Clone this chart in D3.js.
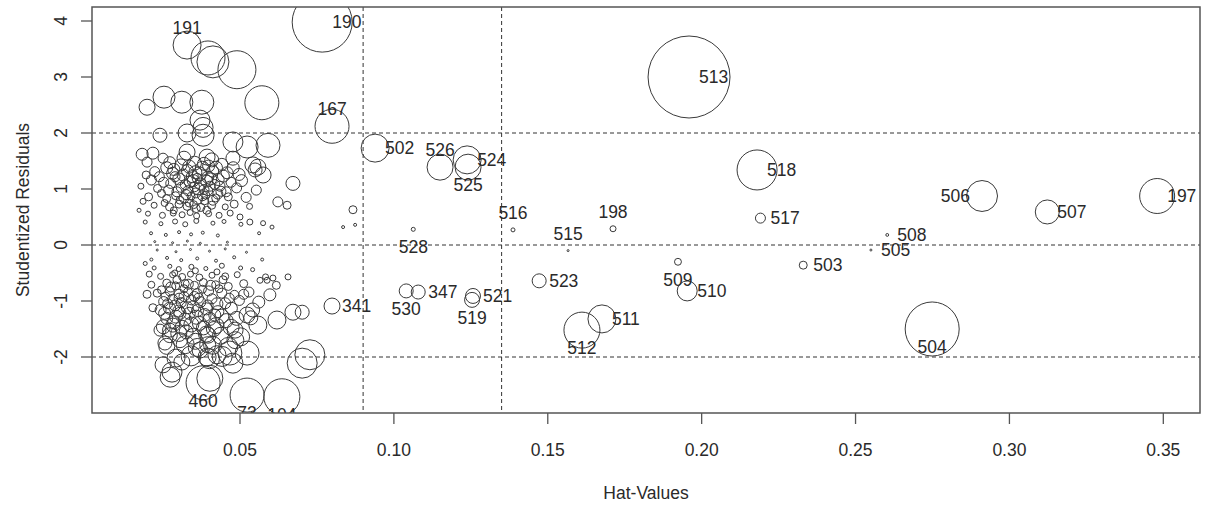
<!DOCTYPE html>
<html>
<head>
<meta charset="utf-8">
<script src="https://cdn.jsdelivr.net/npm/d3@7"></script>
<style>
  body { margin: 0; background: #fff; }
  svg text { font-family: "Liberation Sans", Arial, sans-serif; fill: #2a2a2a; }
</style>
</head>
<body>
<div id="chart"></div>
<script>
// labelled observations
var labelIds   = ["190", "513", "167", "502", "526", "524", "525", "516", "515", "198", "528", "530", "347", "521", "519", "341", "523", "512", "511", "509", "510", "518", "517", "506", "507", "197", "508", "505", "503", "504", "191", "460", "73", "104"];
var labelHat   = [0.0767, 0.1959, 0.0799, 0.0939, 0.1150, 0.1238, 0.1241, 0.1387, 0.1566, 0.1712, 0.1063, 0.1040, 0.1079, 0.1257, 0.1254, 0.0799, 0.1472, 0.1611, 0.1676, 0.1923, 0.1953, 0.2180, 0.2191, 0.2911, 0.3123, 0.3480, 0.2603, 0.2550, 0.2330, 0.2749, 0.0328, 0.0380, 0.0523, 0.0636];
var labelResid = [3.98, 3.00, 2.12, 1.73, 1.39, 1.52, 1.39, 0.27, -0.10, 0.29, 0.28, -0.82, -0.84, -0.91, -0.98, -1.09, -0.64, -1.52, -1.32, -0.30, -0.82, 1.34, 0.48, 0.875, 0.59, 0.875, 0.18, -0.09, -0.36, -1.50, 3.57, -2.46, -2.68, -2.71];
var labelCook  = [0.09, 0.168, 0.0289, 0.0196, 0.0169, 0.0196, 0.0169, 0.0004, 0.0001, 0.0009, 0.0004, 0.0049, 0.0049, 0.0056, 0.0056, 0.0064, 0.0049, 0.0324, 0.0196, 0.0012, 0.01, 0.04, 0.0025, 0.024, 0.0144, 0.0306, 0.0002, 0.0001, 0.0016, 0.073, 0.0196, 0.0289, 0.0289, 0.0324];
var labelSide  = ["right", "right", "above", "right", "above", "right", "below", "above", "above", "above", "below", "below", "right", "right", "below", "right", "right", "below", "right", "below", "right", "right", "right", "left", "right", "right", "right", "right", "right", "below", "above", "below", "below", "below"];

// unlabelled observations: [hat value, studentized residual, cook's D]
var upperBig = [
  [0.0396,3.34,0.0289],[0.0412,3.27,0.0256],[0.0490,3.13,0.0361],[0.0571,2.54,0.0289],
  [0.0198,2.46,0.0064],[0.0253,2.64,0.0121],[0.0311,2.55,0.0121],[0.0376,2.55,0.0144],[0.0370,2.23,0.0100],
  [0.0380,2.10,0.0100],[0.0240,1.96,0.0049],[0.0328,2.00,0.0081],[0.0380,1.96,0.0121],[0.0477,1.84,0.0100],
  [0.0523,1.75,0.0121],[0.0591,1.78,0.0144],[0.0672,1.10,0.0049],[0.0558,1.39,0.0064],[0.0575,1.25,0.0064],
  [0.0549,1.34,0.0049],[0.0623,0.77,0.0025],[0.0653,0.71,0.0016],[0.0867,0.63,0.0016],[0.0835,0.32,0.000225],
  [0.0874,0.36,0.000225],[0.0604,0.32,0.0004],[0.0575,0.39,0.000625],[0.0532,0.41,0.0009],[0.0500,0.50,0.0009],
  [0.0217,1.64,0.0036],[0.0250,1.55,0.0025],[0.0198,1.48,0.0025],[0.0328,1.66,0.0064],[0.0393,1.57,0.0064],
  [0.0477,1.55,0.0049],[0.0542,1.43,0.0064]
];
var upperCluster = [
  [0.0272,1.47,0.0036],[0.0308,1.43,0.0036],[0.0352,1.46,0.0049],[0.0398,1.41,0.0036],[0.0441,1.44,0.0036],
  [0.0223,1.31,0.0025],[0.0281,1.28,0.0036],[0.0329,1.33,0.0036],[0.0368,1.27,0.0049],[0.0411,1.32,0.0036],[0.0458,1.29,0.0036],[0.0497,1.26,0.0036],
  [0.0212,1.16,0.0025],[0.0252,1.12,0.0025],[0.0301,1.18,0.0036],[0.0338,1.13,0.0036],[0.0361,1.19,0.0025],[0.0392,1.14,0.0036],[0.0429,1.17,0.0036],[0.0471,1.12,0.0025],
  [0.0232,1.01,0.0016],[0.0268,0.98,0.0025],[0.0309,1.03,0.0025],[0.0331,0.97,0.0025],[0.0352,1.04,0.0025],[0.0383,0.99,0.0025],[0.0402,1.05,0.0025],[0.0438,0.96,0.0025],[0.0489,1.02,0.0025],[0.0553,0.98,0.0025],
  [0.0203,0.86,0.0016],[0.0262,0.83,0.0016],[0.0291,0.88,0.0016],[0.0318,0.84,0.0025],[0.0341,0.87,0.0016],[0.0362,0.82,0.0025],[0.0389,0.89,0.0016],[0.0421,0.84,0.0016],[0.0462,0.86,0.0016],
  [0.0221,0.71,0.0009],[0.0271,0.68,0.0016],[0.0302,0.73,0.0016],[0.0328,0.69,0.0016],[0.0349,0.72,0.0016],[0.0373,0.67,0.0016],[0.0408,0.71,0.0016],[0.0452,0.68,0.0009],[0.0481,0.73,0.0016],[0.0531,0.69,0.0009],
  [0.0201,0.56,0.000625],[0.0248,0.53,0.0009],[0.0283,0.57,0.0009],[0.0312,0.54,0.0009],[0.0338,0.58,0.0009],[0.0359,0.52,0.0009],[0.0398,0.56,0.0009],[0.0432,0.53,0.0009],[0.0468,0.57,0.0009],
  [0.0192,0.41,0.0004],[0.0243,0.38,0.0004],[0.0289,0.42,0.000625],[0.0322,0.37,0.000625],[0.0358,0.43,0.000625],[0.0412,0.39,0.0004],[0.0448,0.42,0.0004],[0.0503,0.37,0.0004],
  [0.0345,1.22,0.0036],[0.0372,1.09,0.0036],[0.0357,0.93,0.0025],[0.0385,0.79,0.0016],[0.0395,1.21,0.0036],[0.0418,1.08,0.0025],[0.0322,1.08,0.0025],
  [0.0289,1.22,0.0025],[0.0428,0.91,0.0025],[0.0446,1.23,0.0036],[0.0262,1.38,0.0036],[0.0318,1.55,0.0049],[0.0378,1.37,0.0049],[0.0408,1.52,0.0049],
  [0.0178,1.05,0.0009],[0.0185,0.78,0.0009],[0.0172,0.62,0.0004],[0.0195,1.25,0.0016],[0.0182,1.62,0.0036]
];
var upperExtra = [
  [0.0285,1.35,0.0036],[0.0315,1.25,0.0036],[0.0335,1.40,0.0042],[0.0355,1.30,0.0042],[0.0383,1.45,0.0042],
  [0.0405,1.18,0.0036],[0.0422,1.38,0.0042],[0.0275,1.10,0.0025],[0.0295,0.95,0.0025],[0.0325,0.90,0.0025],
  [0.0348,1.15,0.0036],[0.0365,1.00,0.0036],[0.0378,0.88,0.0025],[0.0395,0.97,0.0025],[0.0412,0.80,0.0025],
  [0.0435,1.05,0.0025],[0.0455,0.95,0.0025],[0.0305,0.80,0.0016],[0.0335,0.75,0.0016],[0.0358,0.65,0.0016],
  [0.0392,0.62,0.0016],[0.0285,0.62,0.0012],[0.0255,0.75,0.0012],[0.0245,0.92,0.0016],[0.0238,1.22,0.0025],
  [0.0478,1.38,0.0036],[0.0505,1.15,0.0036],[0.0520,0.85,0.0025]
];
var nearZero = [
  [0.0211,0.21,0.000225],[0.0259,0.18,0.000225],[0.0302,0.23,0.000225],[0.0341,0.19,0.000225],[0.0379,0.22,0.000225],[0.0428,0.17,0.000225],[0.0562,0.21,0.000225],
  [0.0223,0.06,0.0001],[0.0281,0.04,0.0001],[0.0329,0.07,0.0001],[0.0371,0.03,0.0001],[0.0459,0.05,0.0001],
  [0.0231,-0.09,0.0001],[0.0292,-0.12,0.0001],[0.0339,-0.08,0.0001],[0.0401,-0.11,0.0001],[0.0452,-0.07,0.0001],[0.0521,-0.13,0.0001],
  [0.0212,-0.26,0.000225],[0.0263,-0.23,0.000225],[0.0309,-0.27,0.000225],[0.0361,-0.24,0.000225],[0.0422,-0.28,0.000225],[0.0481,-0.22,0.000225],[0.0572,-0.26,0.000225]
];
var lowerCluster = [
  [0.0221,-0.41,0.0004],[0.0272,-0.38,0.0004],[0.0301,-0.43,0.000625],[0.0342,-0.39,0.000625],[0.0389,-0.42,0.0004],[0.0441,-0.37,0.000625],[0.0502,-0.41,0.0004],[0.0541,-0.44,0.0004],
  [0.0242,-0.56,0.0009],[0.0281,-0.53,0.0009],[0.0312,-0.57,0.0012],[0.0339,-0.52,0.0009],[0.0368,-0.58,0.0012],[0.0409,-0.54,0.0009],[0.0452,-0.56,0.0012],[0.0491,-0.53,0.0009],[0.0583,-0.57,0.0009],
  [0.0212,-0.71,0.0012],[0.0262,-0.68,0.0016],[0.0291,-0.73,0.0016],[0.0322,-0.69,0.0016],[0.0352,-0.72,0.0016],[0.0381,-0.67,0.0016],[0.0421,-0.71,0.0016],[0.0462,-0.74,0.0016],[0.0512,-0.69,0.0016],[0.0618,-0.72,0.0016],
  [0.0231,-0.86,0.0016],[0.0272,-0.83,0.002],[0.0302,-0.88,0.0025],[0.0331,-0.84,0.002],[0.0361,-0.87,0.0025],[0.0398,-0.82,0.0025],[0.0441,-0.86,0.0025],[0.0482,-0.89,0.002],[0.0529,-0.84,0.0025],
  [0.0252,-1.01,0.0025],[0.0281,-0.97,0.0025],[0.0309,-1.03,0.0025],[0.0342,-0.98,0.0025],[0.0371,-1.02,0.003],[0.0409,-0.96,0.0025],[0.0452,-1.04,0.003],[0.0498,-0.99,0.0025],[0.0561,-1.02,0.0036],
  [0.0242,-1.16,0.003],[0.0271,-1.13,0.0036],[0.0301,-1.18,0.0036],[0.0329,-1.12,0.0036],[0.0362,-1.17,0.0036],[0.0391,-1.14,0.0036],[0.0428,-1.19,0.0036],[0.0472,-1.13,0.0036],[0.0541,-1.16,0.0049],
  [0.0262,-1.31,0.0036],[0.0292,-1.28,0.0042],[0.0321,-1.33,0.0042],[0.0358,-1.29,0.0049],[0.0402,-1.32,0.0042],[0.0441,-1.27,0.0049],[0.0489,-1.31,0.0049],
  [0.0251,-1.46,0.0049],[0.0282,-1.43,0.0049],[0.0312,-1.47,0.0049],[0.0342,-1.42,0.0056],[0.0381,-1.48,0.0049],[0.0422,-1.44,0.0064],[0.0471,-1.47,0.0064],
  [0.0272,-1.61,0.0056],[0.0301,-1.58,0.0064],[0.0349,-1.63,0.0064],[0.0391,-1.59,0.0064],[0.0438,-1.62,0.0072],[0.0502,-1.64,0.0081],
  [0.0262,-1.81,0.0064],[0.0322,-1.78,0.0081],[0.0361,-1.83,0.0081],[0.0411,-1.79,0.0081],[0.0462,-1.82,0.009],
  [0.0292,-2.02,0.0081],[0.0341,-1.98,0.01],[0.0401,-2.03,0.01],[0.0442,-1.99,0.01],
  [0.0302,-0.95,0.0025],[0.0318,-0.78,0.0016],[0.0289,-1.08,0.003],[0.0335,-1.22,0.0036],[0.0352,-0.92,0.0025],[0.0378,-0.79,0.0016],
  [0.0395,-1.08,0.003],[0.0418,-1.25,0.0036],[0.0432,-0.78,0.0016],[0.0465,-0.95,0.0025],[0.0258,-0.92,0.002],[0.0271,-1.52,0.0049],
  [0.0205,-0.52,0.0009],[0.0198,-0.88,0.0016],[0.0217,-1.12,0.0016],[0.0192,-0.33,0.0004]
];
var lowerExtra = [
  [0.0275,-0.75,0.0025],[0.0295,-0.62,0.0016],[0.0318,-0.92,0.0025],[0.0332,-0.70,0.0025],[0.0348,-1.10,0.0036],
  [0.0365,-0.95,0.0025],[0.0385,-1.25,0.0042],[0.0405,-0.72,0.0025],[0.0425,-1.05,0.0036],[0.0445,-0.62,0.0016],
  [0.0285,-1.38,0.0042],[0.0305,-1.22,0.0036],[0.0325,-1.55,0.0049],[0.0368,-1.40,0.0049],[0.0395,-1.78,0.0064],
  [0.0415,-1.50,0.0056],[0.0455,-1.35,0.0049],[0.0255,-1.22,0.0036],[0.0245,-0.80,0.0016],[0.0265,-1.05,0.0025],
  [0.0305,-1.70,0.0056],[0.0355,-1.72,0.0064],[0.0485,-1.70,0.0072],[0.0512,-0.88,0.0025],[0.0535,-1.30,0.0049],
  [0.0288,-0.50,0.0009],[0.0355,-0.46,0.0009],[0.0425,-0.48,0.0009]
];
var lowerBig = [
  [0.0240,-1.52,0.0036],[0.0256,-1.75,0.0049],[0.0250,-2.14,0.0064],[0.0279,-2.27,0.01],[0.0273,-2.36,0.01],
  [0.0311,-2.09,0.0064],[0.0402,-2.38,0.0169],[0.0702,-2.11,0.0225],[0.0727,-1.96,0.0225],[0.0523,-1.93,0.0144],
  [0.0467,-1.93,0.0144],[0.0477,-2.11,0.01],[0.0425,-1.96,0.0081],[0.0393,-2.00,0.0081],[0.0370,-1.875,0.0064],
  [0.0396,-1.61,0.0064],[0.0484,-1.52,0.0064],[0.0523,-1.25,0.0064],[0.0558,-1.43,0.0081],[0.0620,-1.34,0.0081],
  [0.0672,-1.20,0.0064],[0.0702,-1.20,0.0049],[0.0597,-0.89,0.0036],[0.0588,-0.63,0.0009],[0.0607,-0.59,0.0009],
  [0.0656,-0.57,0.0009],[0.0565,-0.63,0.0009]
];

var xTicks = [0.05, 0.10, 0.15, 0.20, 0.25, 0.30, 0.35];
var yTicks = [-2, -1, 0, 1, 2, 3, 4];
var hatCutoffs = [0.09, 0.135];   // 2x and 3x mean hat value
var residCutoffs = [-2, 0, 2];

var width = 1209, height = 507;
var pLeft = 92, pRight = 1200, pTop = 7, pBottom = 413;

var svg = d3.select("#chart").append("svg")
  .attr("width", width).attr("height", height);

var x = d3.scaleLinear().domain([0.00191, 0.36192]).range([pLeft, pRight]);
var y = d3.scaleLinear().domain([-3.0, 4.25]).range([pBottom, pTop]);
var r = d3.scaleSqrt().domain([0, 0.16]).range([0, 40]);

svg.append("clipPath").attr("id", "plotclip")
  .append("rect").attr("x", pLeft).attr("y", pTop)
  .attr("width", pRight - pLeft).attr("height", pBottom - pTop);

var plot = svg.append("g").attr("clip-path", "url(#plotclip)");

// reference lines
plot.selectAll(".hline").data(residCutoffs).enter().append("line")
  .attr("x1", pLeft).attr("x2", pRight)
  .attr("y1", function (d) { return y(d); }).attr("y2", function (d) { return y(d); })
  .attr("stroke", "#333").attr("stroke-width", 1).attr("stroke-dasharray", "4,3");
plot.selectAll(".vline").data(hatCutoffs).enter().append("line")
  .attr("y1", pTop).attr("y2", pBottom)
  .attr("x1", function (d) { return x(d); }).attr("x2", function (d) { return x(d); })
  .attr("stroke", "#333").attr("stroke-width", 1).attr("stroke-dasharray", "4,3");

// all bubbles
var points = upperBig.concat(upperCluster, upperExtra, nearZero, lowerCluster, lowerExtra, lowerBig);
labelIds.forEach(function (id, i) {
  points.push([labelHat[i], labelResid[i], labelCook[i]]);
});

plot.selectAll("circle").data(points).enter().append("circle")
  .attr("cx", function (d) { return x(d[0]); })
  .attr("cy", function (d) { return y(d[1]); })
  .attr("r", function (d) { return Math.max(r(d[2]), 0.8); })
  .attr("fill", "none")
  .attr("stroke", "#3a3a3a")
  .attr("stroke-width", 1);

// point labels
plot.selectAll(".lab").data(labelIds).enter().append("text")
  .attr("font-size", 17.5)
  .attr("text-anchor", function (d, i) {
    var s = labelSide[i];
    return s == "right" ? "start" : (s == "left" ? "end" : "middle");
  })
  .attr("x", function (d, i) {
    var s = labelSide[i], cx = x(labelHat[i]);
    if (s == "right") return cx + 10;
    if (s == "left") return cx - 12;
    return cx;
  })
  .attr("y", function (d, i) {
    var s = labelSide[i], cy = y(labelResid[i]);
    if (s == "above") cy -= 17;
    if (s == "below") cy += 18;
    return cy + 6;
  })
  .text(function (d) { return d; });

// frame
svg.append("rect")
  .attr("x", pLeft).attr("y", pTop)
  .attr("width", pRight - pLeft).attr("height", pBottom - pTop)
  .attr("fill", "none").attr("stroke", "#555").attr("stroke-width", 1.5);

// x axis
var gx = svg.append("g");
gx.selectAll("line").data(xTicks).enter().append("line")
  .attr("x1", function (d) { return x(d); }).attr("x2", function (d) { return x(d); })
  .attr("y1", pBottom).attr("y2", pBottom + 11)
  .attr("stroke", "#555").attr("stroke-width", 1.3);
gx.selectAll("text").data(xTicks).enter().append("text")
  .attr("x", function (d) { return x(d); }).attr("y", 456)
  .attr("text-anchor", "middle").attr("font-size", 17.5)
  .text(function (d) { return d3.format(".2f")(d); });

// y axis
var gy = svg.append("g");
gy.selectAll("line").data(yTicks).enter().append("line")
  .attr("y1", function (d) { return y(d); }).attr("y2", function (d) { return y(d); })
  .attr("x1", pLeft - 11).attr("x2", pLeft)
  .attr("stroke", "#555").attr("stroke-width", 1.3);
gy.selectAll("text").data(yTicks).enter().append("text")
  .attr("transform", function (d) { return "translate(67," + y(d) + ") rotate(-90)"; })
  .attr("text-anchor", "middle").attr("font-size", 17.5)
  .text(function (d) { return d; });

// axis titles
svg.append("text")
  .attr("x", (pLeft + pRight) / 2).attr("y", 499)
  .attr("text-anchor", "middle").attr("font-size", 17.5)
  .text("Hat-Values");
svg.append("text")
  .attr("transform", "translate(29," + (pTop + pBottom) / 2 + ") rotate(-90)")
  .attr("text-anchor", "middle").attr("font-size", 17.5)
  .text("Studentized Residuals");
</script>
</body>
</html>
